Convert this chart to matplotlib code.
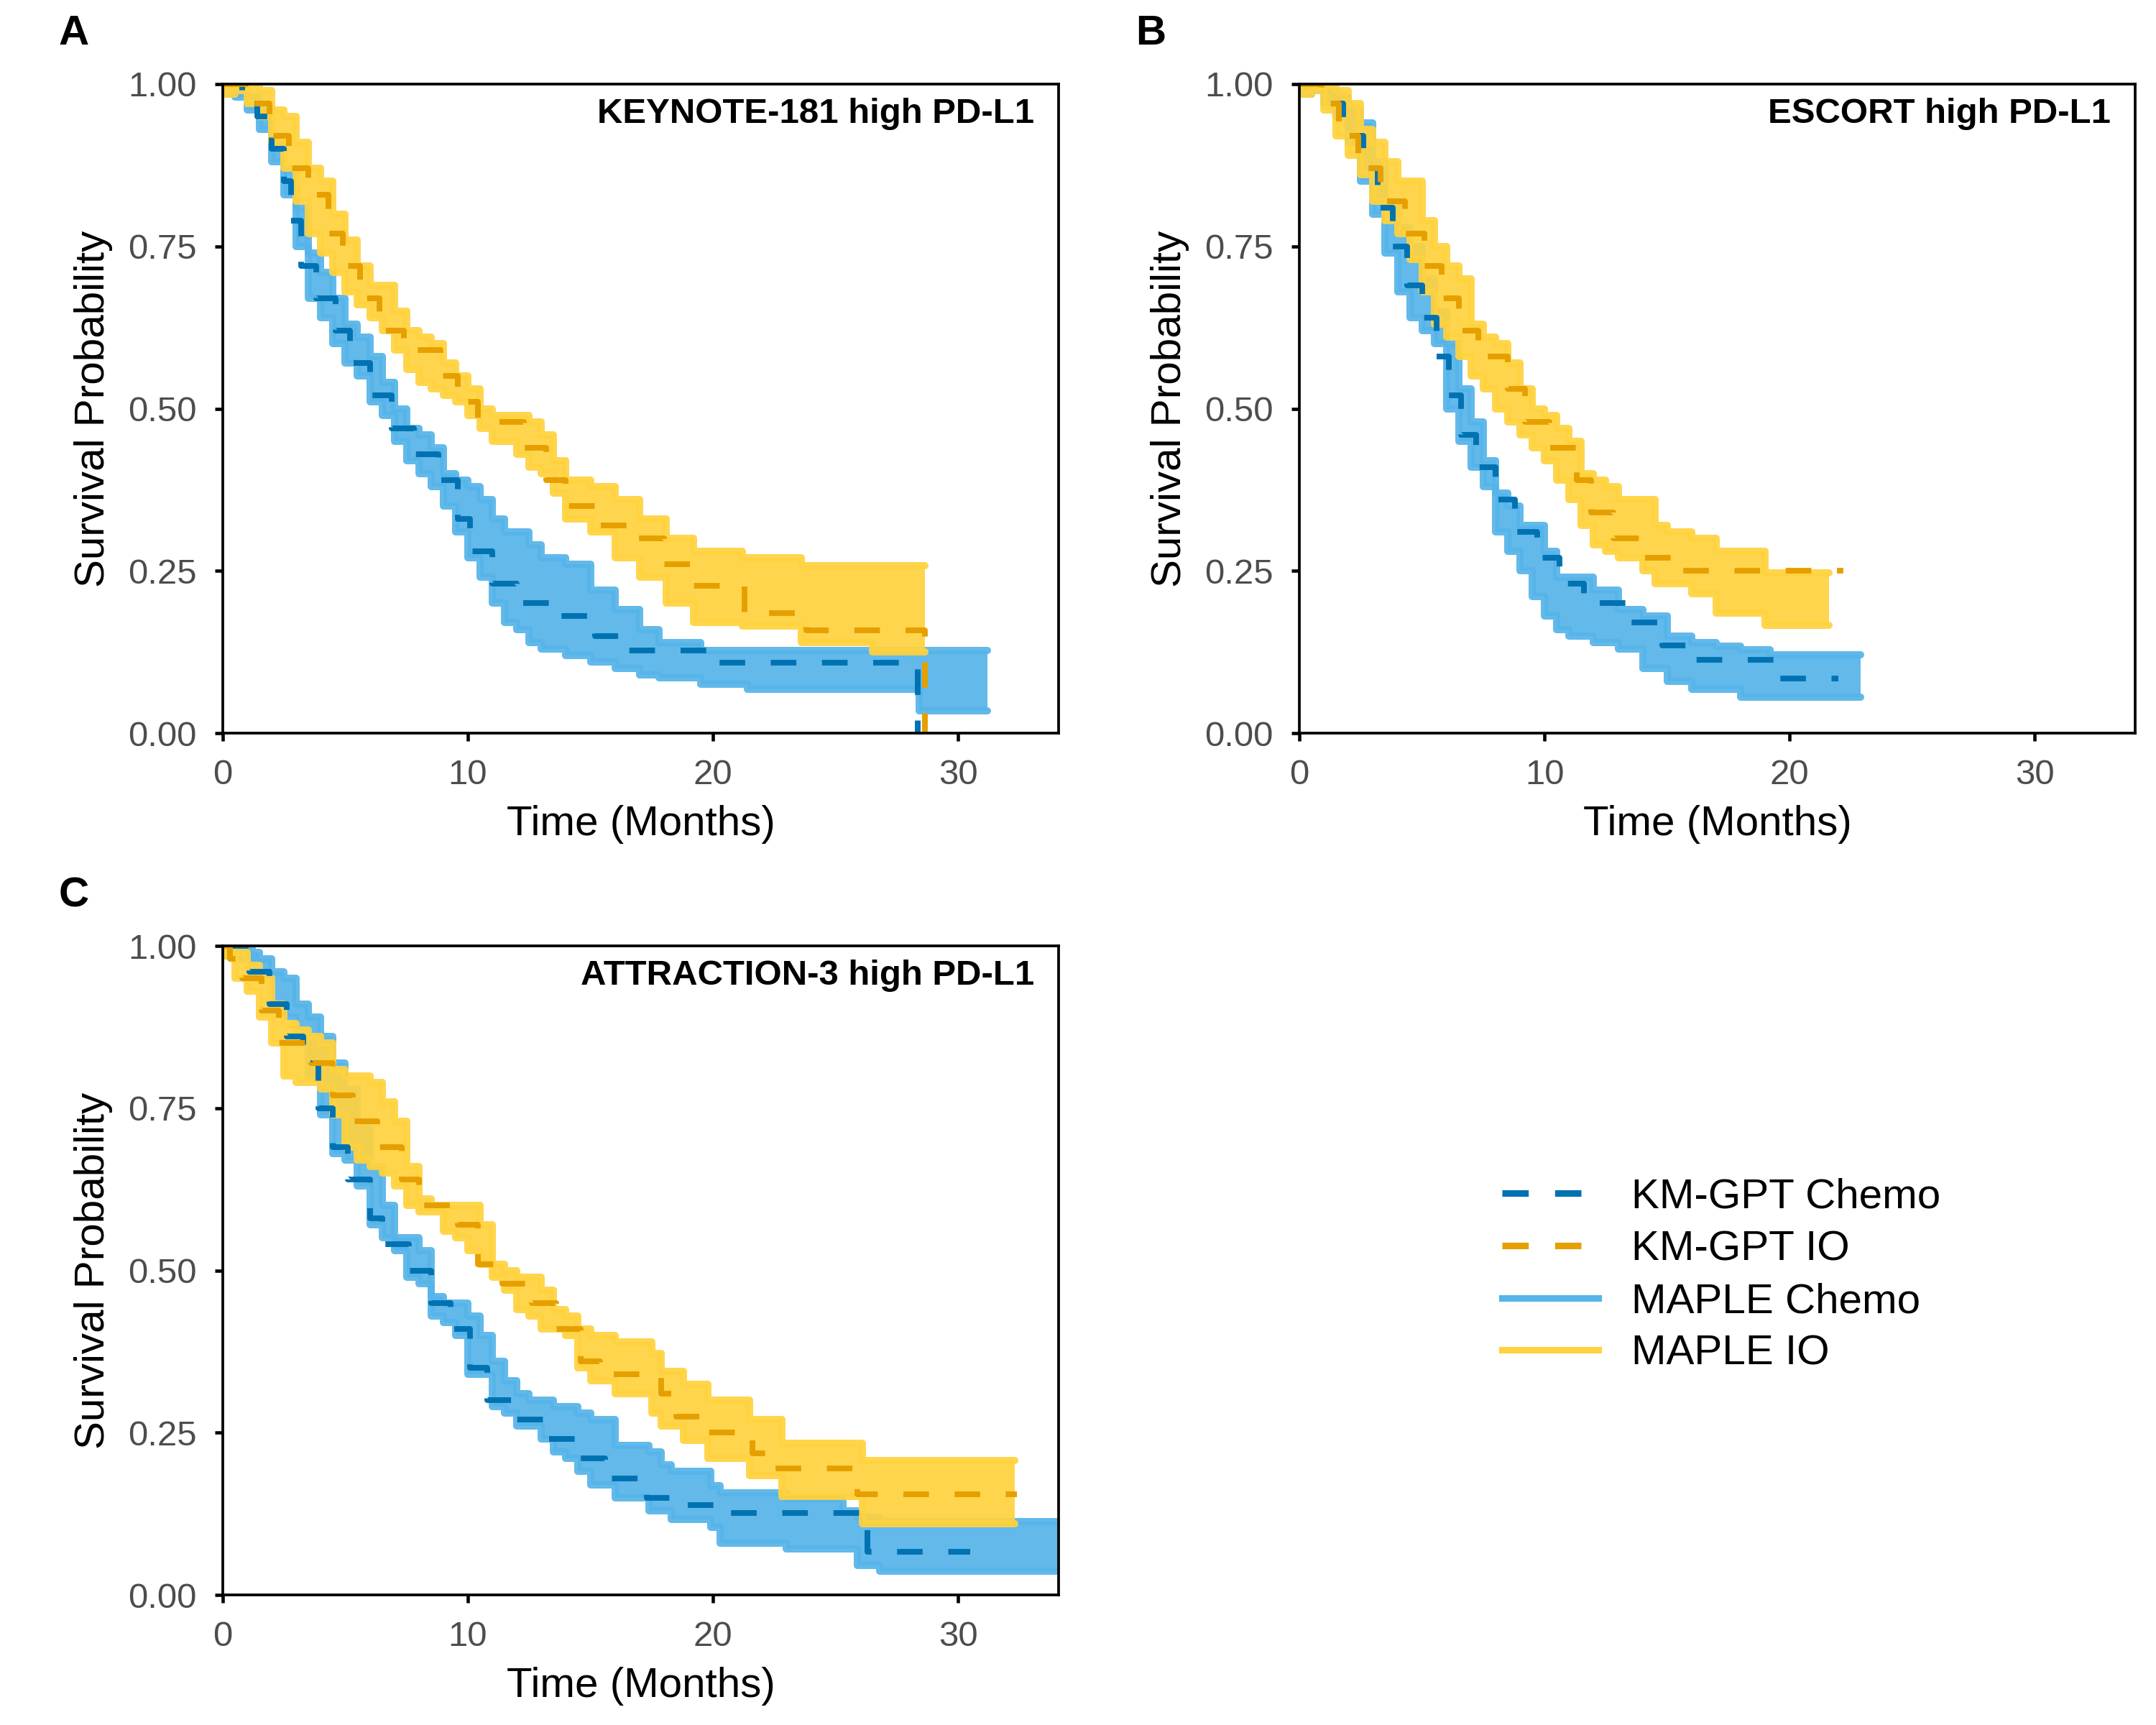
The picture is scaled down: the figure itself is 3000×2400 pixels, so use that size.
import numpy as np
import matplotlib
matplotlib.use("Agg")
import matplotlib.pyplot as plt
from matplotlib.lines import Line2D
from matplotlib.ticker import FormatStrFormatter

plt.rcParams['font.family'] = ['Liberation Sans', 'DejaVu Sans']

CHEMO_DARK = '#0072B2'
IO_DARK = '#E69F00'
CHEMO_LIGHT = '#56B4E9'
IO_LIGHT = '#FFD23F'

# ---------------- Panel A : KEYNOTE-181 ----------------
a_gpt_chemo_t = [0, 0.8, 1.4, 2.0, 2.5, 2.8, 3.2, 3.8, 4.6, 5.2, 6.0, 6.9, 7.8, 8.8, 9.6,
                 10.1, 11.0, 12.0, 13.6, 15.2, 16.5, 20.0, 28.35, 28.35]
a_gpt_chemo_s = [1.0, 0.98, 0.95, 0.90, 0.85, 0.79, 0.72, 0.67, 0.62, 0.57, 0.52, 0.47, 0.43, 0.39, 0.33,
                 0.28, 0.23, 0.20, 0.18, 0.15, 0.127, 0.108, 0.108, 0.0]
a_gpt_io_t = [0, 1.2, 1.9, 2.7, 3.5, 4.3, 4.9, 5.6, 6.4, 7.4, 8.9, 9.6, 10.4, 12.3, 13.2,
              14.0, 15.2, 16.5, 18.0, 19.2, 21.3, 23.8, 28.65, 28.65]
a_gpt_io_s = [1.0, 0.97, 0.92, 0.87, 0.83, 0.77, 0.72, 0.67, 0.62, 0.59, 0.55, 0.51, 0.48, 0.44, 0.39,
              0.35, 0.32, 0.30, 0.26, 0.227, 0.185, 0.158, 0.158, 0.0]

a_maple_chemo_t = [0, 0.5, 1.0, 1.5, 2.0, 2.5, 3.0, 3.5, 4.0, 4.5, 5.0, 5.5, 6.0, 6.5, 7.0, 7.5, 8.0, 8.5,
                   9.0, 9.5, 10.0, 10.5, 11.0, 11.5, 12.0, 12.5, 13.0, 14.0, 15.0, 16.0, 17.0, 17.8,
                   19.5, 21.4, 28.4, 31.2]
a_maple_chemo_hi = [1.0, 1.0, 0.98, 0.96, 0.92, 0.87, 0.81, 0.74, 0.71, 0.67, 0.63, 0.61, 0.58, 0.54,
                    0.50, 0.47, 0.46, 0.44, 0.40, 0.39, 0.38, 0.36, 0.33, 0.31, 0.31, 0.29, 0.27, 0.26,
                    0.22, 0.19, 0.16, 0.14, 0.127, 0.127, 0.127, 0.127]
a_maple_chemo_lo = [0.985, 0.98, 0.96, 0.93, 0.88, 0.83, 0.75, 0.67, 0.64, 0.60, 0.57, 0.55, 0.51, 0.49,
                    0.45, 0.42, 0.40, 0.38, 0.35, 0.31, 0.27, 0.24, 0.20, 0.17, 0.16, 0.14, 0.13, 0.12,
                    0.11, 0.10, 0.09, 0.085, 0.075, 0.068, 0.034, 0.034]
a_maple_io_t = [0, 0.5, 1.0, 1.5, 2.0, 2.5, 3.0, 3.5, 4.0, 4.5, 5.0, 5.5, 6.0, 6.5, 7.0, 7.5, 8.0, 8.5,
                9.0, 9.5, 10.0, 10.5, 11.0, 12.0, 12.5, 13.0, 13.5, 14.0, 15.0, 16.0, 17.0, 18.1,
                19.2, 21.2, 23.6, 26.5, 28.65]
a_maple_io_hi = [1.0, 1.0, 1.0, 0.99, 0.96, 0.95, 0.91, 0.87, 0.85, 0.80, 0.76, 0.72, 0.69, 0.69, 0.65,
                 0.62, 0.61, 0.60, 0.57, 0.55, 0.53, 0.50, 0.49, 0.49, 0.48, 0.46, 0.42, 0.39, 0.38,
                 0.36, 0.33, 0.30, 0.28, 0.27, 0.258, 0.258, 0.258]
a_maple_io_lo = [0.985, 0.99, 0.97, 0.95, 0.91, 0.87, 0.82, 0.77, 0.74, 0.71, 0.68, 0.66, 0.64, 0.62,
                 0.59, 0.56, 0.54, 0.53, 0.52, 0.51, 0.49, 0.47, 0.45, 0.43, 0.41, 0.40, 0.37, 0.33,
                 0.31, 0.27, 0.24, 0.20, 0.17, 0.165, 0.14, 0.125, 0.125]

# ---------------- Panel B : ESCORT ----------------
b_gpt_chemo_t = [0, 1.0, 1.8, 2.6, 3.2, 3.8, 4.4, 5.0, 5.6, 6.1, 6.6, 7.2, 8.0, 8.8, 9.7, 10.6,
                 11.6, 13.3, 14.8, 16.0, 19.5, 22.0]
b_gpt_chemo_s = [1.0, 0.97, 0.92, 0.87, 0.81, 0.75, 0.69, 0.64, 0.58, 0.52, 0.46, 0.41, 0.36, 0.31,
                 0.27, 0.23, 0.20, 0.17, 0.135, 0.113, 0.084, 0.084]
b_gpt_io_t = [0, 0.9, 1.6, 2.4, 3.3, 4.3, 5.1, 5.8, 6.5, 7.3, 8.5, 9.2, 10.2, 11.3, 11.9, 12.8,
              14.0, 15.3, 22.2]
b_gpt_io_s = [1.0, 0.97, 0.92, 0.87, 0.82, 0.77, 0.72, 0.67, 0.62, 0.58, 0.53, 0.48, 0.44, 0.39,
              0.34, 0.30, 0.27, 0.25, 0.25]

b_maple_chemo_t = [0, 0.5, 1.0, 1.5, 2.0, 2.5, 3.0, 3.5, 4.0, 4.5, 5.0, 5.5, 6.0, 6.5, 7.0, 7.5, 8.0,
                   8.5, 9.0, 9.5, 10.0, 10.5, 11.0, 12.0, 13.0, 14.0, 15.0, 16.0, 17.0, 18.0, 19.2,
                   22.9]
b_maple_chemo_hi = [1.0, 1.0, 0.99, 0.98, 0.96, 0.94, 0.88, 0.82, 0.78, 0.75, 0.70, 0.65, 0.60, 0.53,
                    0.48, 0.42, 0.37, 0.35, 0.32, 0.32, 0.28, 0.24, 0.24, 0.22, 0.19, 0.18, 0.15, 0.14,
                    0.134, 0.129, 0.121, 0.121]
b_maple_chemo_lo = [0.985, 0.99, 0.97, 0.95, 0.91, 0.85, 0.80, 0.74, 0.68, 0.64, 0.62, 0.60, 0.50,
                    0.45, 0.41, 0.38, 0.31, 0.28, 0.25, 0.21, 0.18, 0.16, 0.15, 0.14, 0.13, 0.10, 0.08,
                    0.068, 0.068, 0.055, 0.055, 0.055]
b_maple_io_t = [0, 0.5, 1.0, 1.5, 2.0, 2.5, 3.0, 3.5, 4.0, 4.5, 5.0, 5.5, 6.0, 6.5, 7.0, 7.5, 8.0,
                8.5, 9.0, 9.5, 10.0, 10.5, 11.0, 11.5, 12.0, 12.5, 13.0, 14.0, 14.5, 15.0, 16.0,
                17.0, 19.0, 21.6]
b_maple_io_hi = [1.0, 1.0, 1.0, 0.99, 0.97, 0.93, 0.91, 0.88, 0.85, 0.85, 0.79, 0.75, 0.72, 0.70,
                 0.63, 0.61, 0.60, 0.57, 0.53, 0.50, 0.49, 0.47, 0.45, 0.40, 0.39, 0.38, 0.36, 0.36,
                 0.32, 0.31, 0.30, 0.28, 0.247, 0.247]
b_maple_io_lo = [0.985, 0.99, 0.96, 0.92, 0.89, 0.86, 0.82, 0.79, 0.77, 0.73, 0.68, 0.63, 0.61, 0.58,
                 0.55, 0.53, 0.50, 0.48, 0.46, 0.44, 0.42, 0.39, 0.36, 0.32, 0.29, 0.28, 0.27, 0.25,
                 0.23, 0.23, 0.215, 0.185, 0.166, 0.166]

# ---------------- Panel C : ATTRACTION-3 ----------------
c_gpt_chemo_t = [0, 1.1, 1.9, 2.6, 3.3, 3.9, 4.5, 5.1, 6.0, 6.5, 7.6, 8.5, 9.3, 10.1, 10.8, 11.8,
                 13.2, 14.4, 15.6, 17.3, 18.5, 20.3, 26.3, 30.5]
c_gpt_chemo_s = [1.0, 0.96, 0.91, 0.86, 0.82, 0.75, 0.69, 0.64, 0.58, 0.54, 0.50, 0.45, 0.41, 0.35,
                 0.30, 0.27, 0.24, 0.21, 0.18, 0.15, 0.138, 0.126, 0.066, 0.066]
c_gpt_io_t = [0, 0.3, 0.8, 1.6, 2.3, 3.6, 4.5, 5.3, 6.3, 7.3, 8.0, 9.6, 10.4, 11.4, 12.6, 13.6,
              14.6, 15.4, 17.9, 18.5, 19.7, 21.6, 22.3, 25.9, 32.4]
c_gpt_io_s = [1.0, 0.98, 0.95, 0.90, 0.85, 0.82, 0.77, 0.73, 0.69, 0.64, 0.60, 0.57, 0.51, 0.48,
              0.45, 0.41, 0.36, 0.34, 0.31, 0.275, 0.25, 0.218, 0.195, 0.155, 0.155]

c_maple_chemo_t = [0, 0.5, 1.2, 1.5, 2.0, 2.5, 3.0, 3.5, 4.0, 4.5, 5.0, 5.5, 6.0, 6.5, 7.0, 7.5, 8.0,
                   8.5, 9.0, 9.5, 10.0, 10.5, 11.0, 11.5, 12.0, 12.5, 13.0, 13.5, 14.0, 14.5, 15.0,
                   16.0, 17.4, 17.9, 18.3, 19.9, 20.3, 23.0, 25.3, 25.9, 26.8, 34.5]
c_maple_chemo_hi = [1.0, 1.0, 0.99, 0.98, 0.96, 0.95, 0.91, 0.89, 0.86, 0.82, 0.78, 0.72, 0.66, 0.60,
                    0.55, 0.55, 0.53, 0.46, 0.45, 0.45, 0.43, 0.40, 0.36, 0.33, 0.31, 0.30, 0.30, 0.29,
                    0.29, 0.28, 0.27, 0.23, 0.22, 0.20, 0.19, 0.168, 0.157, 0.148, 0.13, 0.12, 0.113,
                    0.113]
c_maple_chemo_lo = [0.985, 0.98, 0.95, 0.95, 0.91, 0.89, 0.85, 0.80, 0.74, 0.68, 0.67, 0.63, 0.57,
                    0.55, 0.53, 0.49, 0.48, 0.43, 0.42, 0.40, 0.34, 0.34, 0.29, 0.28, 0.26, 0.26, 0.24,
                    0.22, 0.21, 0.19, 0.17, 0.15, 0.13, 0.13, 0.116, 0.104, 0.08, 0.071, 0.071, 0.046,
                    0.037, 0.037]
c_maple_io_t = [0, 0.5, 1.0, 1.5, 2.0, 2.5, 3.0, 3.5, 4.0, 4.5, 5.0, 5.5, 6.0, 6.5, 7.0, 7.5, 8.0,
                8.5, 9.0, 9.5, 10.0, 10.5, 11.0, 11.5, 12.0, 12.5, 13.0, 13.5, 14.0, 14.5, 15.0,
                16.0, 17.5, 17.9, 18.8, 19.8, 21.5, 22.8, 26.1, 32.3]
c_maple_io_hi = [1.0, 0.99, 0.97, 0.95, 0.91, 0.88, 0.87, 0.86, 0.85, 0.81, 0.80, 0.80, 0.79, 0.76,
                 0.73, 0.66, 0.61, 0.60, 0.60, 0.60, 0.60, 0.57, 0.51, 0.50, 0.49, 0.49, 0.47, 0.44,
                 0.43, 0.41, 0.40, 0.39, 0.372, 0.345, 0.325, 0.30, 0.27, 0.234, 0.207, 0.207]
c_maple_io_lo = [0.985, 0.95, 0.93, 0.89, 0.85, 0.80, 0.79, 0.79, 0.78, 0.74, 0.69, 0.67, 0.66, 0.65,
                 0.63, 0.60, 0.59, 0.59, 0.56, 0.55, 0.53, 0.51, 0.49, 0.47, 0.44, 0.43, 0.41, 0.41,
                 0.40, 0.35, 0.33, 0.31, 0.28, 0.26, 0.238, 0.21, 0.184, 0.152, 0.11, 0.11]

panels = [
    ('A', 'KEYNOTE-181 high PD-L1', [0.1033, 0.575, 0.3877, 0.37625],
     (a_gpt_chemo_t, a_gpt_chemo_s), (a_gpt_io_t, a_gpt_io_s),
     (a_maple_chemo_t, a_maple_chemo_lo, a_maple_chemo_hi), (a_maple_io_t, a_maple_io_lo, a_maple_io_hi)),
    ('B', 'ESCORT high PD-L1', [0.6027, 0.575, 0.3877, 0.37625],
     (b_gpt_chemo_t, b_gpt_chemo_s), (b_gpt_io_t, b_gpt_io_s),
     (b_maple_chemo_t, b_maple_chemo_lo, b_maple_chemo_hi), (b_maple_io_t, b_maple_io_lo, b_maple_io_hi)),
    ('C', 'ATTRACTION-3 high PD-L1', [0.1033, 0.0754, 0.3877, 0.37625],
     (c_gpt_chemo_t, c_gpt_chemo_s), (c_gpt_io_t, c_gpt_io_s),
     (c_maple_chemo_t, c_maple_chemo_lo, c_maple_chemo_hi), (c_maple_io_t, c_maple_io_lo, c_maple_io_hi)),
]


def draw_band(ax, band, color, z):
    t, lo, hi = band
    ax.fill_between(t, lo, hi, step='post', color=color, lw=0, alpha=0.93, zorder=z)
    # thick envelope lines soften the staircase edges like overlaid draws do
    for edge in (lo, hi):
        ax.step(t, edge, where='post', color=color, lw=2.4, alpha=0.93,
                solid_joinstyle='round', solid_capstyle='round', zorder=z)


fig = plt.figure(figsize=(10, 8), dpi=300)

for letter, title, rect, gpt_chemo, gpt_io, maple_chemo, maple_io in panels:
    ax = fig.add_axes(rect)

    # MAPLE posterior bands
    draw_band(ax, maple_chemo, CHEMO_LIGHT, 1)
    draw_band(ax, maple_io, IO_LIGHT, 1.5)

    # KM-GPT reconstructed curves
    ax.plot(gpt_chemo[0], gpt_chemo[1], drawstyle='steps-post', color=CHEMO_DARK,
            lw=1.9, linestyle=(0, (4.5, 4.5)), zorder=3)
    ax.plot(gpt_io[0], gpt_io[1], drawstyle='steps-post', color=IO_DARK,
            lw=1.9, linestyle=(0, (4.5, 4.5)), zorder=4)

    ax.set_xlim(0, 34.1)
    ax.set_ylim(0, 1)
    ax.set_xticks([0, 10, 20, 30])
    ax.set_yticks([0, 0.25, 0.5, 0.75, 1.0])
    ax.yaxis.set_major_formatter(FormatStrFormatter('%.2f'))
    ax.tick_params(direction='out', length=2.75, width=1.1, labelsize=11.8,
                   labelcolor='#4D4D4D', pad=6)
    for sp in ax.spines.values():
        sp.set_linewidth(0.9)
        sp.set_zorder(5)
    ax.set_xlabel('Time (Months)', fontsize=14, labelpad=4.5)
    ax.set_ylabel('Survival Probability', fontsize=14, labelpad=5)

    ax.text(0.971, 0.979, title, transform=ax.transAxes, ha='right', va='top',
            fontsize=11.8, fontweight='bold')

    # panel letter
    fig.text(rect[0] - 0.069, rect[1] + rect[3] + 0.029, letter, fontsize=14,
             fontweight='bold', ha='center', va='center')

handles = [
    Line2D([], [], color=CHEMO_DARK, lw=2.2, linestyle=(0, (4, 4))),
    Line2D([], [], color=IO_DARK, lw=2.2, linestyle=(0, (4, 4))),
    Line2D([], [], color=CHEMO_LIGHT, lw=2.2),
    Line2D([], [], color=IO_LIGHT, lw=2.2),
]
labels = ['KM-GPT Chemo', 'KM-GPT IO', 'MAPLE Chemo', 'MAPLE IO']
fig.legend(handles, labels, loc='center left', bbox_to_anchor=(0.6965, 0.2605),
           frameon=False, fontsize=14, handlelength=2.3, handletextpad=0.8,
           labelspacing=0.32, borderpad=0, borderaxespad=0)

fig.savefig('out.png', dpi=300)
